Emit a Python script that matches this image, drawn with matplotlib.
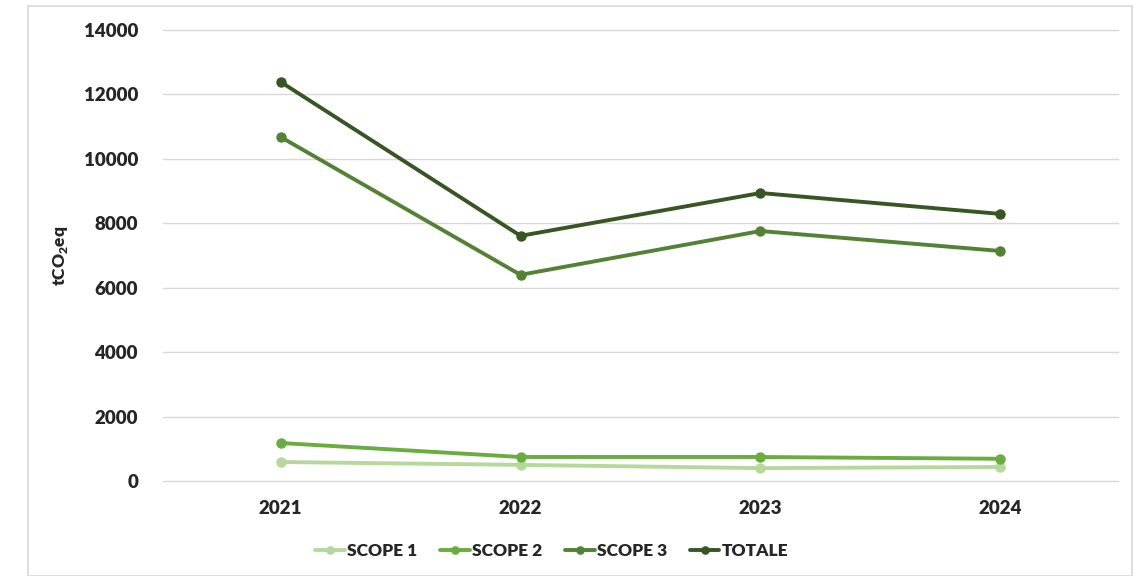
import matplotlib.pyplot as plt
from matplotlib.patches import Rectangle

# data
years = ["2021", "2022", "2023", "2024"]
scope1 = [590, 500, 400, 435]
scope2 = [1180, 745, 745, 690]
scope3 = [10680, 6400, 7760, 7140]
totale = [12390, 7610, 8940, 8290]

labels = ["SCOPE 1", "SCOPE 2", "SCOPE 3", "TOTALE"]
colors = ["#b5d99c", "#6aad3f", "#548235", "#375623"]
yticks = [0, 2000, 4000, 6000, 8000, 10000, 12000, 14000]

plt.rcParams['font.family'] = ['Lato', 'DejaVu Sans']
plt.rcParams['mathtext.fontset'] = 'custom'
plt.rcParams['mathtext.bf'] = 'Lato:heavy'

fig = plt.figure(figsize=(11.35, 5.76), dpi=100)
ax = fig.add_axes([163 / 1135, 1 - 481 / 576, (1118 - 163) / 1135, (481 - 30) / 576])

# outer frame of the chart
fig.patches.append(Rectangle((28 / 1135, 0), (1132 - 28) / 1135, 1 - 6 / 576,
                             transform=fig.transFigure, fill=False,
                             edgecolor="#d9d9d9", linewidth=1.2))

x = range(len(years))
for vals, lab, col in zip([scope1, scope2, scope3, totale], labels, colors):
    ax.plot(x, vals, color=col, linewidth=2.8, marker="o", markersize=6.5,
            label=lab, solid_capstyle="round")

ax.set_xlim(-0.49, 3.49)
ax.set_ylim(0, 14000)
ax.set_yticks(yticks)
ax.set_xticks(list(x))
ax.set_xticklabels(years)
ax.grid(axis="y", color="#d9d9d9", linewidth=1)
for gl in ax.get_ygridlines():
    gl.set_clip_on(False)
ax.set_axisbelow(True)
for s in ax.spines.values():
    s.set_visible(False)
ax.tick_params(length=0, labelsize=13.5, colors="#262626")
ax.tick_params(axis="y", pad=18)
ax.tick_params(axis="x", pad=14)
for t in ax.get_xticklabels() + ax.get_yticklabels():
    t.set_fontweight("heavy")

ax.set_ylabel("tCO$_\\mathbf{2}$eq", fontsize=12.5, fontweight="heavy", color="#262626", labelpad=10)

fig.legend(loc="center", bbox_to_anchor=(552 / 1135, 1 - 551 / 576), ncol=4,
           frameon=False, handlelength=1.7, columnspacing=1.3, handletextpad=0.15,
           markerscale=0.8, prop={"weight": "heavy", "size": 12.5})
for t in fig.legends[0].get_texts():
    t.set_color("#262626")

fig.savefig("out.png", dpi=100)
